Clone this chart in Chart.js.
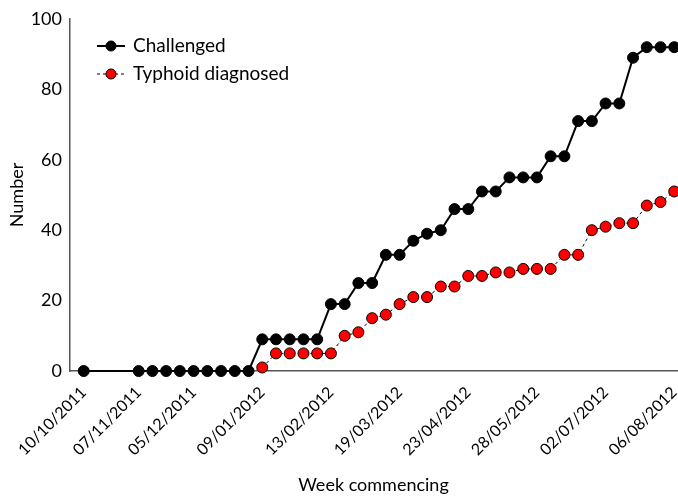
<!DOCTYPE html>
<html>
<head>
<meta charset="utf-8">
<script src="https://cdn.jsdelivr.net/npm/chart.js@4.4.1/dist/chart.umd.min.js"></script>
<style>
html,body{margin:0;padding:0;background:#fff;}
#wrap{position:relative;width:678px;height:496px;}
</style>
</head>
<body>
<div id="wrap"><canvas id="c" width="678" height="496"></canvas></div>
<script>
// Week index (0 = week commencing 10/10/2011)
const challengedWeeks = [0,4,5,6,7,8,9,10,11,12,13,14,15,16,17,18,19,20,21,22,23,24,25,26,27,28,29,30,31,32,33,34,35,36,37,38,39,40,41,42,43];
const challengedValues = [0,0,0,0,0,0,0,0,0,0,9,9,9,9,9,19,19,25,25,33,33,37,39,40,46,46,51,51,55,55,55,61,61,71,71,76,76,89,92,92,92];
const typhoidWeeks = [13,14,15,16,17,18,19,20,21,22,23,24,25,26,27,28,29,30,31,32,33,34,35,36,37,38,39,40,41,42,43];
const typhoidValues = [1,5,5,5,5,5,10,11,15,16,19,21,21,24,24,27,27,28,28,29,29,29,33,33,40,41,42,42,47,48,51];
const tickWeeks = [0,4,8,13,18,23,28,33,38,43];
const tickLabels = ["10/10/2011","07/11/2011","05/12/2011","09/01/2012","13/02/2012","19/03/2012","23/04/2012","28/05/2012","02/07/2012","06/08/2012"];
const seriesNames = ["Challenged","Typhoid diagnosed"];

const FONT = "Lato, 'Open Sans', sans-serif";

const legendPlugin = {
  id: 'insideLegend',
  afterDatasetsDraw(chart) {
    const ctx = chart.ctx;
    const items = [
      {name: seriesNames[0], ds: chart.data.datasets[0]},
      {name: seriesNames[1], ds: chart.data.datasets[1]}
    ];
    const x0 = 97, y0 = 46, dy = 28;
    items.forEach((it, i) => {
      const y = y0 + i * dy;
      ctx.save();
      ctx.strokeStyle = it.ds.borderColor;
      ctx.lineWidth = it.ds.borderWidth;
      ctx.setLineDash(it.ds.borderDash || []);
      ctx.beginPath(); ctx.moveTo(x0, y); ctx.lineTo(x0 + 28, y); ctx.stroke();
      ctx.setLineDash([]);
      ctx.beginPath(); ctx.arc(x0 + 14, y, 5, 0, Math.PI * 2);
      ctx.fillStyle = it.ds.pointBackgroundColor; ctx.fill();
      ctx.lineWidth = 1; ctx.strokeStyle = '#000'; ctx.stroke();
      ctx.fillStyle = '#000';
      ctx.font = "19px " + FONT;
      ctx.textBaseline = 'middle';
      ctx.textAlign = 'left';
      ctx.fillText(it.name, x0 + 36, y);
      ctx.restore();
    });
  }
};

new Chart(document.getElementById('c'), {
  type: 'line',
  data: {
    datasets: [
      {
        label: seriesNames[0],
        data: challengedWeeks.map((w, i) => ({x: w, y: challengedValues[i]})),
        borderColor: '#000', borderWidth: 2,
        pointBackgroundColor: '#000', pointBorderColor: '#000', pointBorderWidth: 1,
        pointRadius: 5.5, tension: 0, clip: false
      },
      {
        label: seriesNames[1],
        data: typhoidWeeks.map((w, i) => ({x: w, y: typhoidValues[i]})),
        borderColor: '#000', borderWidth: 1, borderDash: [3, 3],
        pointBackgroundColor: '#ff0000', pointBorderColor: '#000', pointBorderWidth: 1,
        pointRadius: 5.5, tension: 0, clip: false
      }
    ]
  },
  options: {
    responsive: false,
    animation: false,
    layout: {autoPadding: false, padding: {top: 19, right: 1, left: 0, bottom: 0}},
    plugins: {legend: {display: false}, tooltip: {enabled: false}},
    scales: {
      x: {
        type: 'linear', min: -1, max: 43.2,
        grid: {display: false, drawTicks: true, tickLength: 6, tickColor: '#555'},
        border: {display: true, color: '#555', width: 1.5},
        afterBuildTicks(axis) { axis.ticks = tickWeeks.map(v => ({value: v})); },
        afterFit(scale) { scale.height = 125; scale.paddingLeft = 0; scale.paddingRight = 0; },
        ticks: {
          autoSkip: false, maxRotation: 45, minRotation: 45,
          color: '#000', font: {family: FONT, size: 16}, padding: 6,
          callback(v) { const i = tickWeeks.indexOf(v); return i >= 0 ? tickLabels[i] : ''; }
        },
        title: {display: true, text: 'Week commencing', color: '#000', font: {family: FONT, size: 18}, padding: {top: 0, bottom: 0}}
      },
      y: {
        min: 0, max: 100,
        grid: {display: false, drawTicks: true, tickLength: 6, tickColor: '#555'},
        border: {display: true, color: '#555', width: 1.5},
        afterFit(scale) { scale.width = 70; scale.paddingTop = 0; scale.paddingBottom = 0; },
        ticks: {stepSize: 20, color: '#000', font: {family: FONT, size: 18}, padding: 2},
        title: {display: true, text: 'Number', color: '#000', font: {family: FONT, size: 18}, padding: {top: 6, bottom: 0}}
      }
    }
  },
  plugins: [legendPlugin]
});
</script>
</body>
</html>
